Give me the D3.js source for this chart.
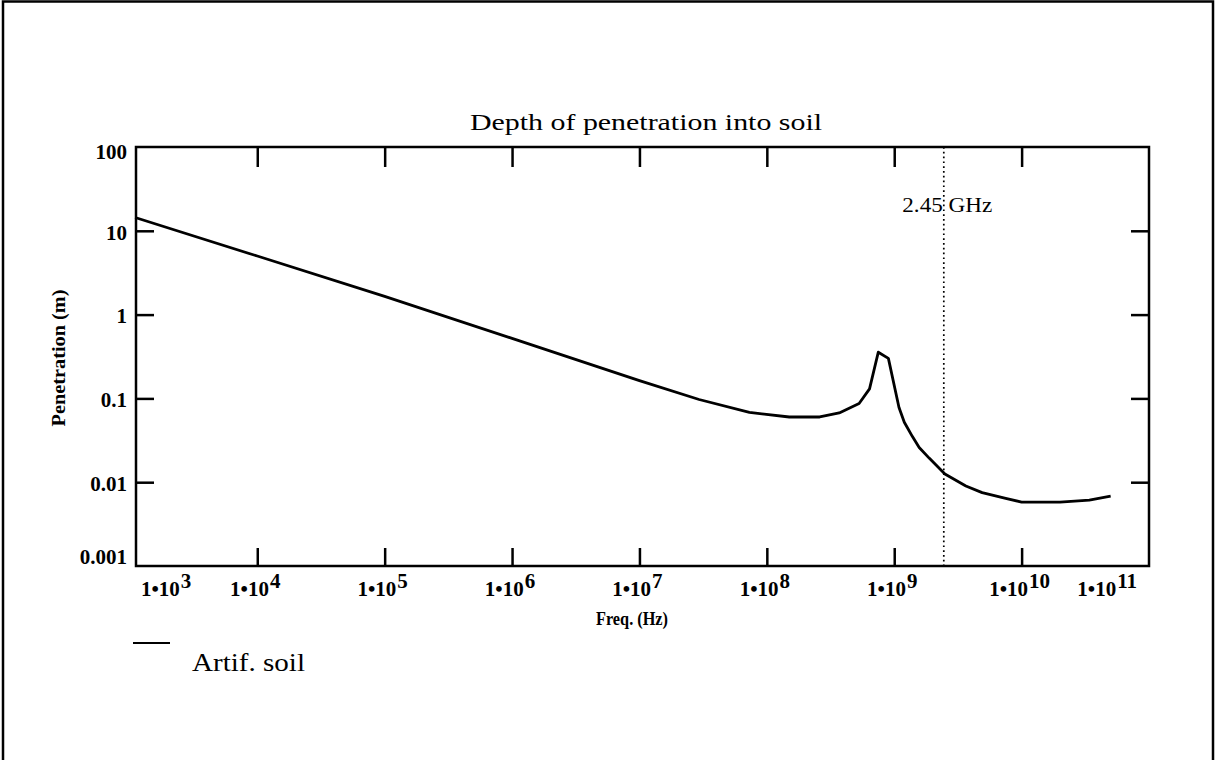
<!DOCTYPE html>
<html><head><meta charset="utf-8">
<script src="https://cdn.jsdelivr.net/npm/d3@7"></script>
<style>
body{margin:0;background:#fff}
svg{display:block}
text{font-family:"Liberation Serif","Times New Roman",serif;fill:#000}
</style>
</head><body><svg id="c" width="1216" height="760"></svg>
<script>
// ---- data ----
const freqHz = [1.1e3, 1e4, 1e5, 1e6, 1e7, 2.94e7, 7.3e7, 1.5e8, 2.6e8, 3.7e8, 5.3e8, 6.4e8, 7.5e8, 9.0e8,
                1.09e9, 1.2e9, 1.39e9, 1.57e9, 1.88e9, 2.5e9, 3.65e9, 4.9e9, 7.5e9, 1.0e10, 2.0e10, 3.4e10, 5.0e10];
const penetrationM = [14.4, 5.0, 1.65, 0.52, 0.163, 0.097, 0.068, 0.060, 0.060, 0.067, 0.087, 0.13, 0.356, 0.30,
                0.078, 0.052, 0.035, 0.026, 0.0194, 0.0125, 0.009, 0.0075, 0.0064, 0.0058, 0.0058, 0.0061, 0.0068];
const xTickExponents = [3, 4, 5, 6, 7, 8, 9, 10, 11];
const yTickValues = [0.001, 0.01, 0.1, 1, 10, 100];
const yTickLabels = ["0.001", "0.01", "0.1", "1", "10", "100"];
const markerFreq = 2.45e9;
const markerLabel = "2.45 GHz";
const chartTitle = "Depth of penetration into soil";
const xTitle = "Freq. (Hz)";
const yTitle = "Penetration (m)";
const seriesName = "Artif. soil";

// ---- layout ----
const svg = d3.select("#c");
const m = {left: 136, right: 1149, top: 147, bottom: 566};
const x = d3.scaleLog().domain([Math.pow(10, 3.048), 1e11]).range([m.left, m.right]);
const y = d3.scaleLog().domain([0.001, 100]).range([m.bottom, m.top]);

// outer page frame
svg.append("rect").attr("x", 3).attr("y", 1.5).attr("width", 1210).attr("height", 820)
  .attr("fill", "none").attr("stroke", "#000").attr("stroke-width", 2.5);

// title
svg.append("text").attr("x", 470).attr("y", 130).attr("font-size", 23)
  .attr("textLength", 352).attr("lengthAdjust", "spacingAndGlyphs").text(chartTitle);

// marker dotted line
svg.append("line").attr("x1", x(markerFreq)).attr("x2", x(markerFreq))
  .attr("y1", m.top).attr("y2", m.bottom)
  .attr("stroke", "#000").attr("stroke-width", 1.7).attr("stroke-dasharray", "1.7,3.1");
svg.append("text").attr("x", x(markerFreq) - 41.5).attr("y", 212).attr("font-size", 20)
  .attr("textLength", 90).attr("lengthAdjust", "spacingAndGlyphs").text(markerLabel);

// curve
const line = d3.line().x((d, i) => x(freqHz[i])).y(d => y(d));
svg.append("path").attr("d", line(penetrationM)).attr("fill", "none")
  .attr("stroke", "#000").attr("stroke-width", 2.8).attr("stroke-linejoin", "round");

// axes ticks (inward)
const innerX = xTickExponents.map(e => Math.pow(10, e)).filter(v => x(v) > m.left + 1 && x(v) < m.right - 1);
const innerY = yTickValues.filter(v => y(v) < m.bottom - 1 && y(v) > m.top + 1);
function styleAxis(g) {
  g.select(".domain").remove();
  g.selectAll(".tick line").attr("stroke", "#000").attr("stroke-width", 2.5);
  g.selectAll(".tick text").remove();
}
svg.append("g").attr("transform", `translate(0,${m.bottom})`)
  .call(d3.axisBottom(x).tickValues(innerX).tickSizeInner(-18).tickSizeOuter(0).tickFormat("")).call(styleAxis);
svg.append("g").attr("transform", `translate(0,${m.top})`)
  .call(d3.axisTop(x).tickValues(innerX).tickSizeInner(-20).tickSizeOuter(0).tickFormat("")).call(styleAxis);
svg.append("g").attr("transform", `translate(${m.left},0)`)
  .call(d3.axisLeft(y).tickValues(innerY).tickSizeInner(-18).tickSizeOuter(0).tickFormat("")).call(styleAxis);
svg.append("g").attr("transform", `translate(${m.right},0)`)
  .call(d3.axisRight(y).tickValues(innerY).tickSizeInner(-18).tickSizeOuter(0).tickFormat("")).call(styleAxis);

// plot frame
svg.append("rect").attr("x", m.left).attr("y", m.top).attr("width", m.right - m.left).attr("height", m.bottom - m.top)
  .attr("fill", "none").attr("stroke", "#000").attr("stroke-width", 2.5);

// x tick labels
xTickExponents.forEach((e, i) => {
  const px = x(Math.pow(10, e));
  let anchor = "middle", tx = px - 2;
  if (i === 0) { anchor = "start"; tx = m.left + 5; }
  if (i === xTickExponents.length - 1) { anchor = "end"; tx = m.right - 12; }
  const t = svg.append("text").attr("x", tx).attr("y", 596).attr("font-size", 21)
    .attr("font-weight", "bold").attr("text-anchor", anchor);
  t.append("tspan").text("1\u202210");
  t.append("tspan").attr("dy", -8).attr("dx", 1).text(e);
});

// y tick labels
yTickValues.forEach((v, i) => {
  const cy = Math.max(m.top + 5, Math.min(m.bottom - 9, y(v) + 1.5));
  svg.append("text").attr("x", 127).attr("y", cy + 7.3).attr("font-size", 21)
    .attr("font-weight", "bold").attr("text-anchor", "end").text(yTickLabels[i]);
});

// axis titles
svg.append("text").attr("transform", "translate(65,358) rotate(-90)").attr("text-anchor", "middle")
  .attr("font-size", 19).attr("font-weight", "bold")
  .attr("textLength", 137).attr("lengthAdjust", "spacingAndGlyphs").text(yTitle);
svg.append("text").attr("x", 596).attr("y", 625).attr("font-size", 19).attr("font-weight", "bold")
  .attr("textLength", 72).attr("lengthAdjust", "spacingAndGlyphs").text(xTitle);

// legend
svg.append("line").attr("x1", 133).attr("x2", 170).attr("y1", 643).attr("y2", 643)
  .attr("stroke", "#000").attr("stroke-width", 2.2);
svg.append("text").attr("x", 192).attr("y", 671).attr("font-size", 25)
  .attr("textLength", 113).attr("lengthAdjust", "spacingAndGlyphs").text(seriesName);
</script>
</body></html>
